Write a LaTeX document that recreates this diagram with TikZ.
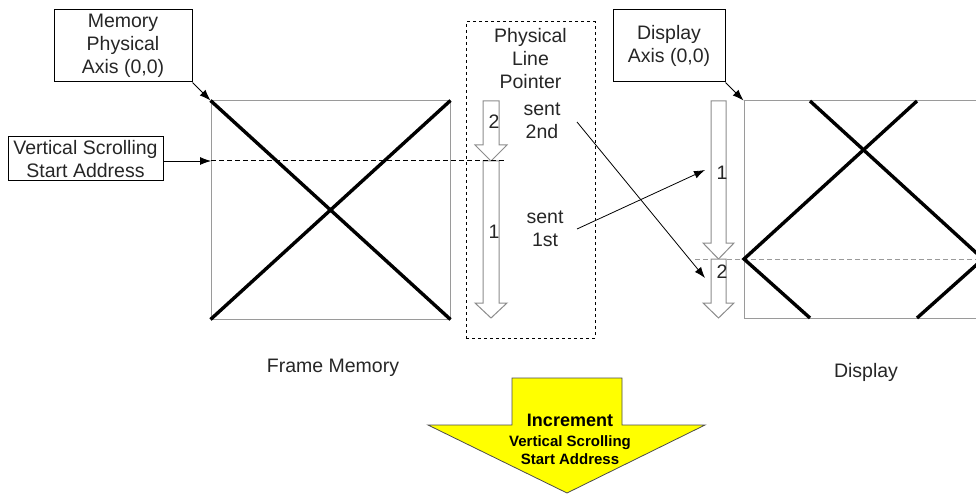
\documentclass[tikz,border=0pt]{standalone}
\usepackage{fontspec}
\setmainfont{Liberation Sans}
\usetikzlibrary{arrows.meta,positioning}
\definecolor{frameline}{HTML}{9A9A9A}
\definecolor{ptrline}{HTML}{8C8C8C}
\definecolor{bannerfill}{HTML}{FFFF00}
\definecolor{txtink}{HTML}{262626}

\begin{document}
\begin{tikzpicture}[x=1pt, y=-1pt, >={Latex[length=11pt,width=8pt]},
  font=\fontsize{19.5}{23}\selectfont, text=txtink,
  labelbox/.style={draw, line width=1pt, inner sep=0pt, align=center},
  framebox/.style={draw=frameline, line width=1pt, inner sep=0pt},
  crossline/.style={line width=3.4pt},
  ptrarrow/.style={draw=ptrline, fill=white, line width=1pt},
  pointer/.style={->, line width=0.8pt}]
  \useasboundingbox (0,0) rectangle (976,494);

  % frame memory
  \node[framebox, minimum width=239pt, minimum height=218pt] (memframe) at (330.5,210) {};
  \draw[crossline] (memframe.north west) -- (memframe.south east);
  \draw[crossline] (memframe.south west) -- (memframe.north east);
  \node (memlabel) at (333,368) {Frame Memory};

  \node[labelbox, minimum width=138pt, minimum height=72pt] (memaxis) at (123,46)
    {Memory\\Physical\\Axis (0,0)};
  \node[labelbox, minimum width=155pt, minimum height=44pt] (vssa) at (85.5,159)
    {Vertical Scrolling\\Start Address};
  \coordinate (scroll) at (211,161);
  \coordinate (scrollend) at (505,161);
  \draw[pointer] (memaxis.south east) -- (memframe.north west);
  \draw[pointer] (vssa.east |- scroll) -- (scroll);

  % physical line pointer
  \node[draw, dashed, line width=1pt, minimum width=129pt, minimum height=316pt] (plp) at (530.5,180) {};
  \node[below=3pt of plp.north, align=center] (plptitle) {Physical\\Line\\Pointer};
  \draw[ptrarrow] (483,101) -- (499,101) -- (499,145) -- (507,145) -- (491,161) -- (475,145) -- (483,145) -- cycle;
  \draw[ptrarrow] (483,161) -- (499,161) -- (499,303) -- (507,303) -- (491,318) -- (475,303) -- (483,303) -- cycle;
  \node (m2) at (494,122) {2};
  \node (m1) at (494,232) {1};
  \draw[dashed, dash pattern=on 5pt off 3pt, line width=1pt] (scroll) -- (scrollend);
  \node[align=center] (sent2) at (542,121) {sent\\2nd};
  \node[align=center] (sent1) at (545,229) {sent\\1st};

  % display
  \node[framebox, minimum width=239pt, minimum height=217pt] (dispframe) at (863.5,209.5) {};
  \draw[frameline, dash pattern=on 5pt off 3pt, line width=1pt] (695,259) -- (983,259);
  \draw[crossline] (810,101) -- (983,259) -- (917,318);
  \draw[crossline] (917,101) -- (744,259) -- (810,318);
  \node (displabel) at (866,372) {Display};
  \node[labelbox, minimum width=112pt, minimum height=72pt] (dispaxis) at (669,46)
    {Display\\Axis (0,0)};
  \draw[pointer] (dispaxis.south east) -- (dispframe.north west);
  \draw[ptrarrow] (711,101) -- (726,101) -- (726,243) -- (734,243) -- (718.5,259) -- (703,243) -- (711,243) -- cycle;
  \draw[ptrarrow] (711,259) -- (726,259) -- (726,303) -- (734,303) -- (718.5,318) -- (703,303) -- (711,303) -- cycle;
  \node (d1) at (722,173) {1};
  \node (d2) at (722,272) {2};

  % sent lines
  \coordinate (s2out) at (577,122);
  \coordinate (s1out) at (577,229);
  \coordinate (d2in) at (705,278);
  \coordinate (d1in) at (705,170);
  \draw[pointer] (s2out) -- (d2in);
  \draw[pointer] (s1out) -- (d1in);

  % increment banner
  \draw[fill=bannerfill, draw=black!70, line width=0.8pt] (512,378) -- (622,378) -- (622,425) -- (705,425)
    -- (567,493) -- (428,425) -- (512,425) -- cycle;
  \node[font=\bfseries\fontsize{18}{20}\selectfont, text=black] (incr) at (570,420) {Increment};
  \node[font=\bfseries\fontsize{15}{18}\selectfont, text=black, align=center, below=2pt of incr] (incrsub)
    {Vertical Scrolling\\Start Address};
\end{tikzpicture}
\end{document}
